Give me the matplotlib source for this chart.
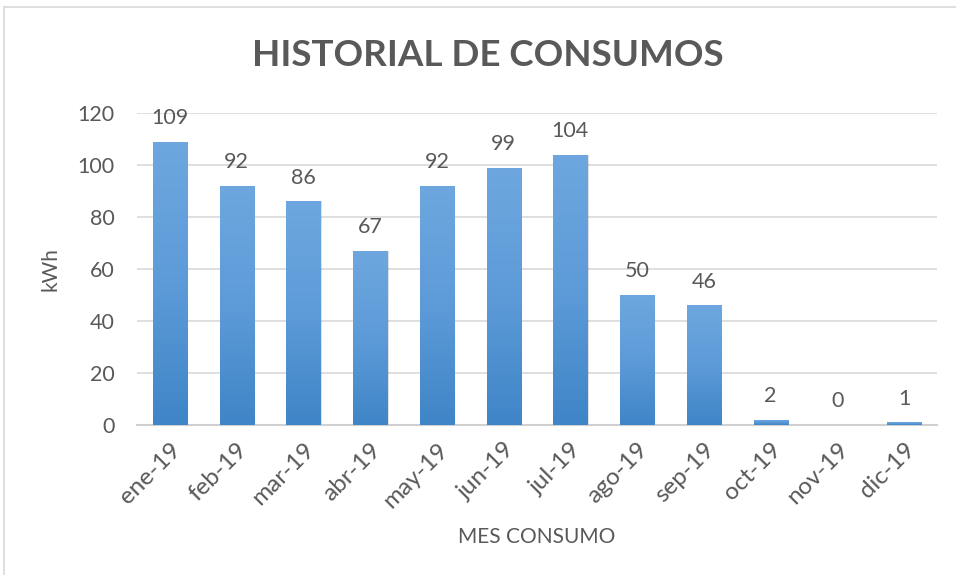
import numpy as np
import matplotlib.pyplot as plt
from matplotlib.colors import LinearSegmentedColormap
from matplotlib.patches import Rectangle

# consumo mensual 2019
meses = ['ene-19', 'feb-19', 'mar-19', 'abr-19', 'may-19', 'jun-19',
         'jul-19', 'ago-19', 'sep-19', 'oct-19', 'nov-19', 'dic-19']
consumo = [109, 92, 86, 67, 92, 99, 104, 50, 46, 2, 0, 1]
yticks = [0, 20, 40, 60, 80, 100, 120]

gris = '#595959'
plt.rcParams['font.family'] = ['Lato', 'DejaVu Sans']

fig = plt.figure(figsize=(9.56, 5.75), dpi=100)
ax = fig.add_axes([136.6 / 956, 1 - 425 / 575, (937.4 - 136.6) / 956, 312 / 575])

# marco del grafico
fig.add_artist(Rectangle((4 / 956, -0.1), 1.2, 1 - 7 / 575 + 0.1,
                         transform=fig.transFigure, fill=False,
                         edgecolor='#d9d9d9', linewidth=1.2))

x = np.arange(len(meses))
ancho = 0.51
barras = ax.bar(x, consumo, width=ancho, color='none', zorder=3)

# degradado vertical en cada barra
cmap = LinearSegmentedColormap.from_list('azul', ['#3f85c7', '#5d9bd8', '#6ea7df'])
grad = np.linspace(0, 1, 256).reshape(-1, 1)
for b in barras:
    h = b.get_height()
    if h <= 0:
        continue
    x0 = b.get_x()
    # sombra leve
    ax.add_patch(Rectangle((x0 + 0.02, 0), ancho, h, facecolor='#000000',
                           alpha=0.12, edgecolor='none', zorder=2))
    im = ax.imshow(grad, cmap=cmap, aspect='auto', origin='lower',
                   extent=(x0, x0 + ancho, 0, h), zorder=3)
    im.set_clip_path(b)

for xi, v in zip(x, consumo):
    ax.annotate(str(v), (xi, v), xytext=(0, 10), textcoords='offset points',
                ha='center', va='bottom', fontsize=15.5, color=gris)

ax.set_xlim(-0.5, len(meses) - 0.5)
ax.set_ylim(0, 120)
ax.set_yticks(yticks)
ax.set_xticks(x)
ax.set_xticklabels(meses, rotation=45, ha='right', rotation_mode='anchor')
ax.tick_params(axis='both', length=0, labelcolor=gris)
ax.tick_params(axis='y', pad=16, labelsize=15.5)
ax.tick_params(axis='x', pad=10, labelsize=17.5)
ax.grid(axis='y', color='#d9d9d9', linewidth=1.2, zorder=0)
ax.set_axisbelow(True)
for s in ['top', 'right', 'left']:
    ax.spines[s].set_visible(False)
ax.spines['bottom'].set_color('#d0d0d0')
ax.spines['bottom'].set_linewidth(1.5)

ax.set_ylabel('kWh', fontsize=15, color=gris, labelpad=12)
fig.text(537 / 956, 1 - 537 / 575, 'MES CONSUMO', ha='center', va='center',
         fontsize=15, color=gris)
fig.text(488 / 956, 1 - 55 / 575, 'HISTORIAL DE CONSUMOS', ha='center',
         va='center', fontsize=26.5, fontweight='bold', color=gris)

fig.savefig('out.png', dpi=100, facecolor='white')
